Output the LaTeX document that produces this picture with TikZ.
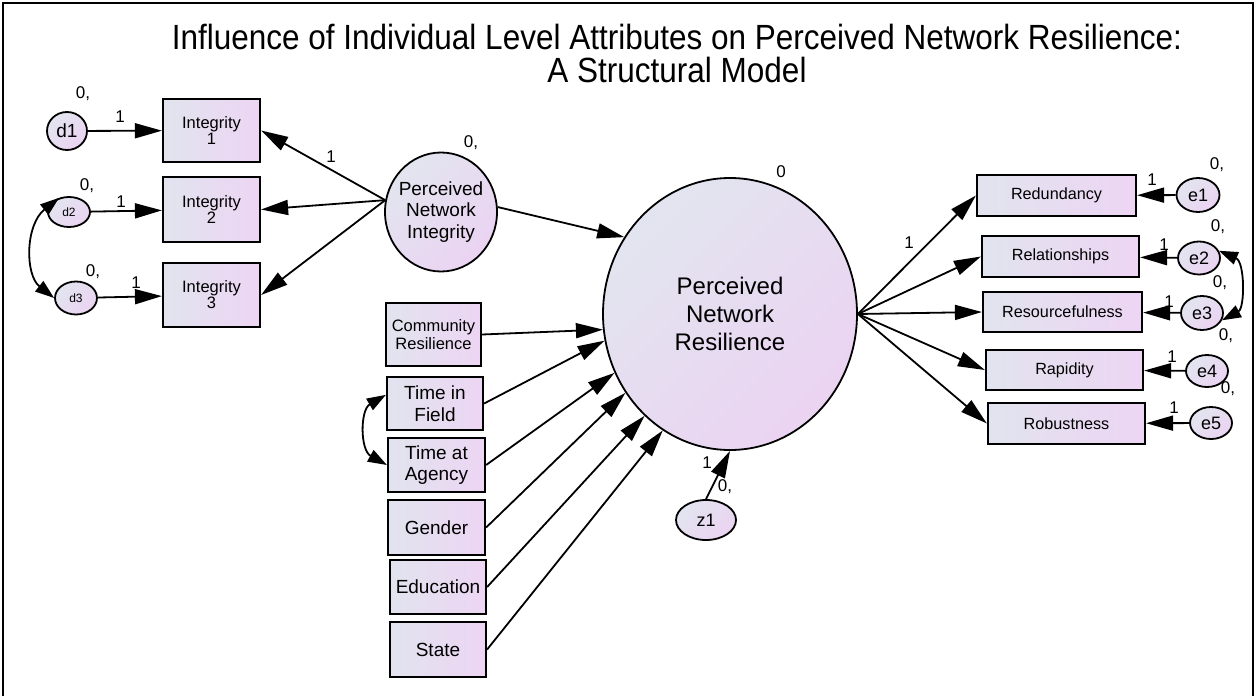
\documentclass[tikz,border=0pt]{standalone}
\usepackage{fontspec}
\setmainfont{Liberation Sans}
\newfontfamily\titlefont[FakeStretch=0.9]{Liberation Sans}
\usetikzlibrary{arrows.meta,shapes.geometric}
\definecolor{boxL}{HTML}{E1E4EE}
\definecolor{boxR}{HTML}{EDD5F3}
\definecolor{ovA}{HTML}{E2E5EF}
\definecolor{ovB}{HTML}{EBD3F2}
\begin{document}
\begin{tikzpicture}[x=1pt,y=-1pt,
  obs/.style={draw=black,line width=2.2pt,rectangle,inner sep=0pt,align=center,
              left color=boxL,right color=boxR},
  lat/.style={draw=black,line width=1.8pt,ellipse,inner sep=0pt,align=center,
              top color=ovA,bottom color=ovB,shading angle=45},
  regarrow/.style={line width=1.8pt,-{Triangle[length=27pt,width=15pt]}},
  cov/.style={line width=1.8pt,{Triangle[length=19pt,width=13pt]}-{Triangle[length=19pt,width=13pt]}},
  num/.style={font=\fontsize{17}{17}\selectfont,inner sep=0pt,anchor=base},
  fint/.style={font=\fontsize{16.5}{13.5}\selectfont},
  fcom/.style={font=\fontsize{16.5}{17.7}\selectfont},
  fmid/.style={font=\fontsize{19}{21.5}\selectfont},
  frgt/.style={font=\fontsize{16.2}{18}\selectfont},
  ferr/.style={font=\fontsize{18}{18}\selectfont},
]
\useasboundingbox (0,0) rectangle (1257,696);

% frame
\draw[line width=2.2pt] (3,696) -- (3,3) -- (1253,3) -- (1253,696);

% title
\node[font=\titlefont\fontsize{35}{33}\selectfont,align=center,anchor=north,inner sep=0pt] (title) at (677,24)
  {Influence of Individual Level Attributes on Perceived Network Resilience:\\A Structural Model};

% integrity indicators and their errors
\node[obs,fint,minimum width=97pt,minimum height=63pt] (int1) at (211.5,130.5) {Integrity\\1};
\node[obs,fint,minimum width=97pt,minimum height=65pt] (int2) at (211.5,209.5) {Integrity\\2};
\node[obs,fint,minimum width=97pt,minimum height=64pt] (int3) at (211.5,295) {Integrity\\3};

\node[lat,font=\fontsize{19}{19}\selectfont,minimum width=40pt,minimum height=38pt] (d1) at (67,131) {d1};
\node[lat,font=\fontsize{12}{12}\selectfont,minimum width=42pt,minimum height=30pt] (d2) at (69,212) {d2};
\node[lat,font=\fontsize{12}{12}\selectfont,minimum width=42pt,minimum height=33pt] (d3) at (76,298) {d3};

% latent variables
\node[lat,font=\fontsize{19}{21.7}\selectfont,inner xsep=-10pt,minimum width=112pt,minimum height=119pt] (pni) at (441,212)
  {Perceived\\Network\\Integrity};
\node[lat,font=\fontsize{24}{28.3}\selectfont,minimum width=254pt,minimum height=272pt] (pnr) at (730,314)
  {Perceived\\Network\\Resilience};
\node[lat,ferr,minimum width=60pt,minimum height=40pt] (z1) at (706,520) {z1};

% exogenous predictors
\node[obs,fcom,minimum width=95pt,minimum height=63pt] (comm) at (433.5,334.5) {Community\\Resilience};
\node[obs,fmid,minimum width=96pt,minimum height=53pt] (tif) at (435,403.5) {Time in\\Field};
\node[obs,fmid,minimum width=97pt,minimum height=54pt] (tag) at (436.5,465) {Time at\\Agency};
\node[obs,fmid,minimum width=97pt,minimum height=55pt] (gen) at (436.5,527.5) {Gender};
\node[obs,fmid,minimum width=96pt,minimum height=54pt] (edu) at (438,587) {Education};
\node[obs,fmid,minimum width=96pt,minimum height=55pt] (sta) at (438,649.5) {State};

% resilience indicators and their errors
\node[obs,frgt,minimum width=159pt,minimum height=41pt] (red) at (1056.5,195.5) {Redundancy};
\node[obs,frgt,minimum width=157pt,minimum height=41pt] (rel) at (1060.5,256.5) {Relationships};
\node[obs,frgt,minimum width=159pt,minimum height=40pt] (res) at (1062.5,312) {Resourcefulness};
\node[obs,frgt,minimum width=157pt,minimum height=40pt] (rap) at (1064.5,370) {Rapidity};
\node[obs,frgt,minimum width=157pt,minimum height=41pt] (rob) at (1066.5,423.5) {Robustness};

\node[lat,ferr,minimum width=43pt,minimum height=34pt] (e1) at (1198,195) {e1};
\node[lat,ferr,minimum width=42pt,minimum height=33pt] (e2) at (1199,258) {e2};
\node[lat,ferr,minimum width=42pt,minimum height=34pt] (e3) at (1202,313) {e3};
\node[lat,ferr,minimum width=42pt,minimum height=32pt] (e4) at (1207,371) {e4};
\node[lat,ferr,minimum width=42pt,minimum height=32pt] (e5) at (1211,423) {e5};

% regression paths
\draw[regarrow] (d1) -- (int1);
\draw[regarrow] (d2) -- (int2);
\draw[regarrow] (d3) -- (int3);
\draw[regarrow] (pni.168) -- (int1.east);
\draw[regarrow] (pni.168) -- (int2.east);
\draw[regarrow] (pni.168) -- (int3.east);
\draw[regarrow] (pni.5) -- (pnr.144);
\draw[regarrow] (comm.east) -- (pnr.187);
\draw[regarrow] (tif.east) -- (pnr.192);
\draw[regarrow] (tag.east) -- (pnr.207);
\draw[regarrow] (gen.east) -- (pnr.217);
\draw[regarrow] (edu.east) -- (pnr.230);
\draw[regarrow] (sta.east) -- (pnr.240);
\draw[regarrow] (z1.north) -- (pnr.south);
\draw[regarrow] (pnr.east) -- (red.west);
\draw[regarrow] (pnr.east) -- (rel.west);
\draw[regarrow] (pnr.east) -- (res.west);
\draw[regarrow] (pnr.east) -- (rap.west);
\draw[regarrow] (pnr.east) -- (rob.west);
\draw[regarrow] (e1) -- (red);
\draw[regarrow] (e2) -- (rel);
\draw[regarrow] (e3) -- (res);
\draw[regarrow] (e4) -- (rap);
\draw[regarrow] (e5) -- (rob);

% covariances
\draw[cov] (d2.125) .. controls (25,225) and (25,275) .. (d3.west);
\draw[cov] (tif.170) .. controls (360,410) and (360,450) .. (tag.west);
\draw[cov] (e2.20) .. controls (1245,262) and (1245,308) .. (e3.-20);

% parameter labels
\node[num] (l1) at (83,98) {0,};
\node[num] (l2) at (120,122) {1};
\node[num] (l3) at (87,190) {0,};
\node[num] (l4) at (121,207) {1};
\node[num] (l5) at (93,276) {0,};
\node[num] (l6) at (136,288) {1};
\node[num] (l7) at (331,162) {1};
\node[num] (l8) at (471,147) {0,};
\node[num] (l9) at (781,177) {0};
\node[num] (l10) at (909,248) {1};
\node[num] (l11) at (1152,185) {1};
\node[num] (l12) at (1217,169) {0,};
\node[num] (l13) at (1164,250) {1};
\node[num] (l14) at (1218,231) {0,};
\node[num] (l15) at (1169,307) {1};
\node[num] (l16) at (1220,287) {0,};
\node[num] (l17) at (1172,362) {1};
\node[num] (l18) at (1226,340) {0,};
\node[num] (l19) at (1174,413) {1};
\node[num] (l20) at (1228,393) {0,};
\node[num] (l21) at (707,468) {1};
\node[num] (l22) at (725,491) {0,};
\end{tikzpicture}
\end{document}
